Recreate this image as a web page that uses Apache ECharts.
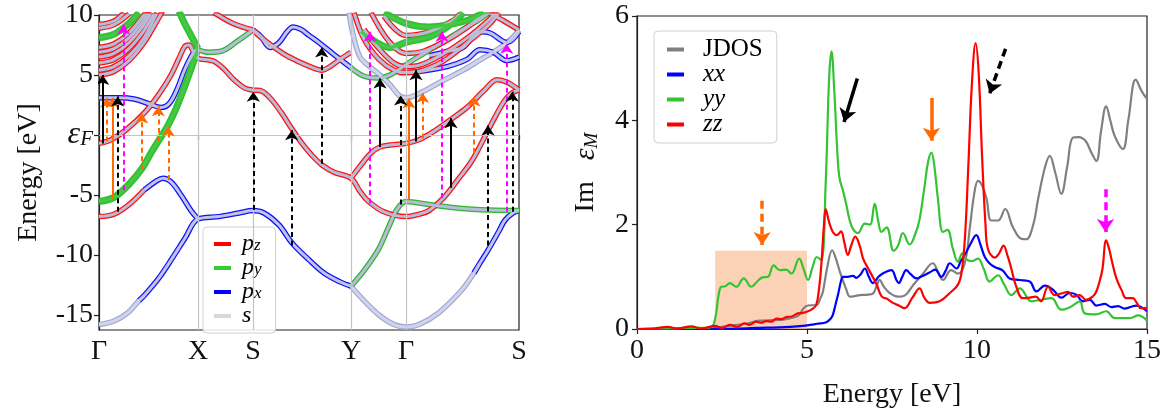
<!DOCTYPE html>
<html><head><meta charset="utf-8">
<script src="https://cdn.jsdelivr.net/npm/echarts@6/dist/echarts.min.js"></script>
<style>html,body{margin:0;padding:0;background:#fff}#c{width:1168px;height:414px}</style>
</head><body><div id="c"></div><script>
// ---------- DATA ----------
const kPoints = [0, 99, 154, 252, 307, 420];
const kLabels = ['Γ', 'X', 'S', 'Y', 'Γ', 'S'];
const eTicks = [-15, -10, -5, 0, 5, 10];
const eTickLabels = ['-15', '-10', '-5', 'εF', '5', '10'];

const bandsPz = [
  [[0,-6.8],[15,-6.6],[30,-5.8],[45,-4.6]],
  [[0,-0.7],[12,-0.4],[28,0.5],[46,1.9],[60,3.4],[72,5.0],[80,6.4],[86,7.4],[90,7.5],[94,7.0],[99,6.4],[110,6.25],[116,6.1],[125,5.5],[135,4.6],[146,3.9],[154,3.75],[163,3.65],[172,3.0],[182,1.9],[193,0.5],[203,-0.7],[213,-1.7],[223,-2.5],[235,-3.1],[252,-3.6],[261,-4.7],[269,-5.5],[285,-6.4],[307,-6.8],[320,-6.6],[330,-6.3],[345,-5.2],[360,-3.6],[374,-2.0],[391,0.7],[405,2.8],[413,3.5],[420,3.75]],
  [[252,-3.6],[262,-2.5],[272,-1.5],[281,-1.0],[295,-0.8],[307,-0.7],[320,-0.4],[331,0.1],[342,0.7],[352,1.3],[368,2.3],[385,3.7],[398,4.6],[408,4.4],[420,3.75]],
  [[0,5.0],[15,5.3],[30,6.2],[45,7.7],[60,9.8],[64,10.4]],
  [[0,5.4],[15,5.7],[30,6.6],[45,8.1],[58,10.2]],
  [[0,6.0],[15,6.3],[30,7.2],[45,8.7],[55,10.1]],
  [[0,6.5],[15,6.8],[30,7.7],[45,9.2],[52,10.2]],
  [[0,6.9],[15,7.2],[30,8.1],[45,9.6],[50,10.3]],
  [[0,7.3],[15,7.6],[30,8.5],[45,10.0],[48,10.4]],
  [[0,8.9],[15,9.2],[30,10.1]],
  [[0,9.2],[15,9.5],[25,10.2]],
  [[115,10.2],[134,9.3],[154,8.75]],
  [[154,8.75],[161,8.2],[184,6.8],[200,6.1],[211,5.7],[223,5.4],[231,5.7],[241,6.3],[252,6.9]],
  [[255,10.2],[265,8.0],[280,6.3],[295,5.4],[307,5.2],[320,5.3],[345,6.2],[370,7.8],[390,9.2],[400,10.2]],
  [[265,8.8],[280,7.2],[295,6.0],[307,5.7],[320,5.8],[345,6.8],[370,8.2],[390,9.6],[397,10.2]],
  [[272,10.2],[290,7.8],[307,6.8],[325,7.0],[350,8.0],[375,9.4],[385,10.2]],
  [[285,9.9],[307,8.3],[330,8.6],[355,9.6],[362,10.2]],
  [[390,10.2],[405,9.5],[420,8.75]]
];
const bandsPx = [
  [[40,-13.8],[45,-13.4],[60,-11.9],[73,-10.3],[86,-8.6],[99,-7.0],[120,-6.8],[140,-6.5],[154,-6.3],[165,-6.5],[180,-7.5],[193,-9.0],[210,-10.4],[225,-11.5],[240,-12.2],[252,-12.6]],
  [[45,-4.6],[58,-3.8],[64,-3.6],[72,-3.9],[82,-5.0],[92,-6.3],[99,-7.0]],
  [[0,3.1],[20,3.1],[35,3.0],[50,2.6],[62,2.3],[70,2.6],[78,3.8],[86,5.5],[94,6.8],[99,7.2]],
  [[154,8.75],[162,8.2],[171,7.3],[180,7.7],[188,8.6],[194,9.0],[202,8.8],[210,8.3],[220,7.7],[235,6.7],[252,5.6]],
  [[375,-11.5],[380,-10.8],[389,-9.6],[400,-8.0],[406,-7.1],[414,-6.5],[420,-6.3]],
  [[300,5.2],[320,5.3],[348,5.7],[368,6.3],[381,7.1],[394,6.9],[408,6.2],[420,6.5]],
  [[330,6.6],[350,7.0],[364,7.3],[381,8.6],[391,8.5],[408,7.7],[420,8.6]]
];
const bandsPy = [
  [[252,-12.6],[265,-11.3],[279,-9.6],[290,-7.6],[298,-6.2],[307,-5.55],[330,-5.8],[360,-6.1],[390,-6.25],[420,-6.3]],
  [[252,5.6],[265,4.9],[278,4.75],[291,5.0],[314,6.25],[341,7.6],[360,8.6],[380,9.6],[390,10.2]],
  [[99,7.1],[110,6.9],[123,7.0],[138,7.8],[154,8.75]]
];
const bandsPyThick = [
  [[0,-5.55],[15,-5.2],[30,-4.1],[43,-2.8],[52,-1.5],[59,-0.55],[69,0.8],[77,2.2],[85,3.9],[92,5.5],[99,7.2]],
  [[80,10.3],[85,9.4],[92,8.3],[99,7.2]],
  [[0,8.1],[15,8.4],[30,9.3],[40,10.2]],
  [[262,8.6],[280,7.6],[291,7.3],[308,7.75],[331,8.2],[348,9.0],[361,9.9],[364,10.2]],
  [[285,10.2],[307,9.3],[330,9.0],[350,9.2],[370,9.6],[385,10.2]]
];
const bandsS = [
  [[0,-15.8],[15,-15.5],[29,-14.8],[40,-13.8],[45,-13.4]],
  [[252,-12.6],[265,-13.8],[280,-15.0],[295,-15.8],[307,-16.0],[320,-15.8],[340,-14.8],[363,-12.9],[375,-11.5],[380,-10.8]],
  [[250,10.2],[254,8.4],[261,6.5],[272,5.6],[281,5.0],[291,4.2],[300,3.3],[307,3.1],[321,3.5],[341,4.4],[364,5.4],[381,6.25],[400,7.2],[412,8.0],[420,8.75]]
];

// transitions [k, E_from, E_to]
const trBlackSolid = [[3.7,-0.7,5.0],[281,-1.0,4.7],[317,-0.55,5.4],[352,-4.4,1.4]];
const trBlackDashed = [[18.7,-6.4,3.2],[154.3,-6.25,3.6],[192.7,-9.2,0.4],[222.7,-2.4,7.3],[301.7,-5.8,3.3],[389,-9.2,0.8],[413.3,-6.4,3.6]];
const trOrangeSolid = [[13.5,-5.4,3.1],[310,-5.4,3.05]];
const trOrangeDashed = [[7.7,-0.55,3.1],[42.7,-2.9,1.8],[59.3,-0.55,2.4],[69.3,-3.75,0.7],[323.7,-0.3,3.5],[375,-1.5,3.2]];
const trMagentaDashed = [[24.5,-4.6,9.2],[271,-5.7,8.6],[343,-5.25,8.6],[407.7,-6.4,7.6]];

// spectra [E, Im eps]
const jdos = [[0,0],[2.2,0.01],[2.5,0.04],[2.8,0.07],[3.2,0.1],[3.6,0.16],[4.0,0.17],[4.3,0.18],[4.6,0.22],[4.77,0.27],[4.9,0.40],[5.03,0.45],[5.27,0.46],[5.4,0.6],[5.47,0.72],[5.6,1.2],[5.74,1.51],[5.85,1.35],[5.97,1.09],[6.16,0.75],[6.26,0.62],[6.4,0.63],[6.55,0.65],[6.8,0.66],[6.94,0.68],[7.04,0.81],[7.14,0.94],[7.25,0.82],[7.43,0.69],[7.68,0.62],[7.87,0.64],[8.12,0.84],[8.41,1.06],[8.7,1.26],[8.85,1.1],[9.0,0.94],[9.24,1.13],[9.44,1.06],[9.64,1.26],[9.8,2.0],[9.92,2.6],[10.03,2.84],[10.15,2.75],[10.28,2.5],[10.42,2.08],[10.62,2.08],[10.83,2.30],[11.05,1.96],[11.3,1.73],[11.45,1.72],[11.65,1.99],[11.8,2.5],[12.0,3.1],[12.14,3.32],[12.3,3.0],[12.48,2.59],[12.65,3.1],[12.82,3.67],[13.0,3.68],[13.2,3.6],[13.35,3.4],[13.51,3.22],[13.65,3.8],[13.8,4.27],[13.92,4.0],[14.05,3.7],[14.29,3.45],[14.45,4.0],[14.67,4.78],[14.85,4.55],[15,4.41]];
const epsXX = [[0,0],[2.5,0.005],[3.5,0.02],[4.5,0.04],[5.0,0.07],[5.3,0.1],[5.57,0.13],[5.7,0.2],[5.76,0.27],[5.85,0.5],[5.91,0.65],[6.0,0.92],[6.06,1.0],[6.2,1.0],[6.35,1.02],[6.45,0.98],[6.58,1.05],[6.70,1.16],[6.82,1.0],[6.94,0.88],[7.1,1.0],[7.24,1.07],[7.48,1.13],[7.63,0.94],[7.7,0.88],[7.8,1.0],[7.92,1.13],[8.05,1.05],[8.22,0.97],[8.35,1.0],[8.51,1.05],[8.65,1.1],[8.77,1.14],[8.95,1.0],[9.08,1.12],[9.2,1.26],[9.4,1.16],[9.52,1.3],[9.64,1.42],[9.8,1.62],[9.98,1.80],[10.1,1.62],[10.23,1.38],[10.38,1.25],[10.52,1.19],[10.76,1.12],[10.96,0.97],[11.26,0.94],[11.55,0.91],[11.75,0.72],[12.0,0.83],[12.24,0.75],[12.48,0.60],[12.73,0.69],[12.92,0.66],[13.12,0.53],[13.32,0.56],[13.51,0.45],[13.76,0.48],[13.95,0.42],[14.15,0.44],[14.34,0.39],[14.68,0.45],[15,0.34]];
const epsYY = [[0,0],[0.5,0.01],[1.0,0.01],[1.5,0.02],[2.0,0.02],[2.2,0.04],[2.3,0.2],[2.4,0.65],[2.48,0.81],[2.6,0.82],[2.73,0.88],[2.92,0.81],[3.14,0.97],[3.36,0.81],[3.55,0.92],[3.69,0.99],[3.85,1.0],[4.02,1.22],[4.2,1.13],[4.39,1.14],[4.54,1.06],[4.77,1.35],[4.9,1.15],[5.03,0.94],[5.17,1.2],[5.29,1.38],[5.42,1.32],[5.55,2.8],[5.65,4.8],[5.72,5.32],[5.8,4.6],[5.9,3.3],[5.96,2.88],[6.06,2.65],[6.16,2.37],[6.25,2.1],[6.35,1.92],[6.5,1.84],[6.7,2.02],[6.85,2.0],[6.99,2.4],[7.1,2.05],[7.19,1.86],[7.34,1.95],[7.55,1.5],[7.68,1.6],[7.82,1.84],[8.02,1.62],[8.2,1.85],[8.31,2.1],[8.45,2.7],[8.56,3.2],[8.66,3.38],[8.75,3.1],[8.85,2.5],[9.0,1.86],[9.13,1.9],[9.29,1.54],[9.44,1.29],[9.57,1.45],[9.7,1.33],[9.85,1.3],[10.03,1.35],[10.2,1.15],[10.37,0.91],[10.62,1.03],[10.8,0.85],[11.01,0.65],[11.26,0.78],[11.6,0.53],[11.95,0.57],[12.19,0.59],[12.48,0.37],[12.77,0.43],[13.02,0.53],[13.17,0.30],[13.5,0.28],[13.8,0.34],[14.05,0.21],[14.5,0.21],[14.74,0.26],[15,0.16]];
const epsZZ = [[0,0],[0.5,0.01],[0.9,0.04],[1.2,0.01],[1.6,0.05],[1.9,0.01],[2.3,0.06],[2.5,0.02],[2.73,0.08],[2.95,0.04],[3.16,0.11],[3.3,0.08],[3.5,0.14],[3.65,0.12],[3.8,0.15],[3.95,0.14],[4.1,0.2],[4.25,0.19],[4.39,0.23],[4.55,0.24],[4.73,0.30],[4.88,0.31],[5.03,0.34],[5.15,0.38],[5.27,0.46],[5.35,0.75],[5.42,1.22],[5.5,2.0],[5.55,2.30],[5.65,2.05],[5.76,1.86],[5.88,1.8],[6.0,1.87],[6.1,1.65],[6.2,1.42],[6.3,1.6],[6.42,1.77],[6.55,1.6],[6.65,1.35],[6.85,1.1],[7.05,0.85],[7.2,0.62],[7.35,0.58],[7.53,0.50],[7.7,0.45],[7.87,0.40],[8.1,0.6],[8.31,0.78],[8.45,0.6],[8.61,0.50],[8.9,0.53],[9.2,0.69],[9.44,0.85],[9.55,1.1],[9.65,1.8],[9.75,3.2],[9.85,4.7],[9.96,5.48],[10.05,4.9],[10.15,3.3],[10.25,2.0],[10.32,1.54],[10.52,1.37],[10.65,1.45],[10.78,1.6],[10.9,1.4],[11.0,1.18],[11.15,0.82],[11.35,0.59],[11.55,0.6],[11.73,0.62],[11.88,0.53],[12.09,0.81],[12.28,0.65],[12.48,0.68],[12.68,0.71],[12.82,0.62],[13.02,0.65],[13.2,0.56],[13.4,0.62],[13.51,0.72],[13.62,0.95],[13.69,1.15],[13.8,1.70],[13.9,1.5],[13.95,1.35],[14.1,0.97],[14.25,0.75],[14.39,0.59],[14.58,0.59],[14.7,0.5],[14.82,0.40],[15,0.40]];
const shadedRange = [[2.3, 0], [5.0, 1.5]];
// marker arrows [E1, v1, E2, v2]
const mkBlackSolid = [[6.48,4.80,6.09,3.97]];
const mkBlackDashed = [[10.84,5.37,10.37,4.51]];
const mkOrangeSolid = [[8.66,4.43,8.66,3.61]];
const mkOrangeDashed = [[3.68,2.46,3.68,1.61]];
const mkMagentaDashed = [[13.78,2.68,13.78,1.86]];

// ---------- STYLE / BUILD ----------
const FONT = "'Liberation Serif','DejaVu Serif',serif";
const C = {red:'#ff0000', green:'#33c433', blue:'#0000ff', gray:'#808080', orange:'#ff6a00', magenta:'#ff00ff', black:'#000000'};
const orb = {
  pz: {outer:'#ff1010', ow:5.5, inner:'#b7bcda', iw:3},
  px: {outer:'#1010ff', ow:5.5, inner:'#c0c5e3', iw:3},
  py: {outer:'#2fb52f', ow:5.5, inner:'#b7bcda', iw:3},
  pyT:{outer:'#34c234', ow:7, inner:'#45c845', iw:3},
  s:  {outer:'#a0a8d6', ow:5.5, inner:'#d2d5ea', iw:3}
};
const series = [];
function addBands(list, key){
  const st = orb[key];
  list.forEach(pts => {
    series.push({type:'line', xAxisIndex:0, yAxisIndex:0, data:pts, showSymbol:false, smooth:0.35, silent:true, z:2,
      lineStyle:{color:st.outer, width:st.ow}, animation:false});
    series.push({type:'line', xAxisIndex:0, yAxisIndex:0, data:pts, showSymbol:false, smooth:0.35, silent:true, z:3,
      lineStyle:{color:st.inner, width:st.iw}, animation:false});
  });
}
addBands(bandsS, 's');
addBands(bandsPx, 'px');
addBands(bandsPy, 'py');
addBands(bandsPz, 'pz');
addBands(bandsPyThick, 'pyT');

// grid lines in band panel
series.push({type:'line', xAxisIndex:0, yAxisIndex:0, data:[[0,0]], showSymbol:false, lineStyle:{opacity:0}, silent:true, z:1,
  markLine:{silent:true, symbol:['none','none'], label:{show:false}, animation:false,
    lineStyle:{color:'#c4c4c4', width:1.2, type:'solid'},
    data: kPoints.slice(1, -1).map(k => ({xAxis:k})).concat([{yAxis:0}])}});

function addTransitions(list, color, dashed, grid){
  series.push({type:'lines', coordinateSystem:'cartesian2d', xAxisIndex:grid, yAxisIndex:grid, polyline:false, silent:true, z:6,
    symbol:['none','arrow'], symbolSize: grid===0 ? 10 : 13, animation:false,
    lineStyle:{color:color, width: grid===0 ? 2 : 3.5, type: dashed ? (grid===0 ? [5,3.5] : [8,5]) : 'solid', opacity:1},
    data: list.map(t => grid===0 ? {coords:[[t[0],t[1]],[t[0],t[2]]]} : {coords:[[t[0],t[1]],[t[2],t[3]]]})});
}
addTransitions(trOrangeSolid, C.orange, false, 0);
addTransitions(trOrangeDashed, C.orange, true, 0);
addTransitions(trMagentaDashed, C.magenta, true, 0);
addTransitions(trBlackSolid, C.black, false, 0);
addTransitions(trBlackDashed, C.black, true, 0);
addTransitions(mkBlackSolid, C.black, false, 1);
addTransitions(mkBlackDashed, C.black, true, 1);
addTransitions(mkOrangeSolid, C.orange, false, 1);
addTransitions(mkOrangeDashed, C.orange, true, 1);
addTransitions(mkMagentaDashed, C.magenta, true, 1);

// legend dummies for band panel
[['pz', C.red], ['py', '#33cc33'], ['px', C.blue], ['s', '#d8d8d8']].forEach(([n, c]) => {
  series.push({name:n, type:'line', xAxisIndex:0, yAxisIndex:0, data:[], color:c});
});

// spectra
const spec = [['JDOS', jdos, C.gray], ['xx', epsXX, C.blue], ['yy', epsYY, C.green], ['zz', epsZZ, C.red]];
spec.forEach(([n, d, c], i) => {
  const s = {name:n, type:'line', xAxisIndex:1, yAxisIndex:1, data:d, showSymbol:false, smooth:0.4, color:c,
    lineStyle:{color:c, width:2.2}, z:4, animation:false};
  if (i === 0) {
    s.markArea = {silent:true, itemStyle:{color:'rgba(250,188,148,0.68)'},
      data:[[{coord:shadedRange[0]}, {coord:shadedRange[1]}]]};
  }
  series.push(s);
});

const richL = {
  it:{fontFamily:FONT, fontStyle:'italic', fontSize:24, lineHeight:21, padding:[0,0,0,6], color:'#000'},
  sub:{fontFamily:FONT, fontStyle:'italic', fontSize:17, lineHeight:9, verticalAlign:'bottom', color:'#000'}
};
const richR = {
  rm:{fontFamily:FONT, fontSize:25, lineHeight:25, padding:[0,0,0,14], color:'#000'},
  itl:{fontFamily:FONT, fontStyle:'italic', fontSize:25, lineHeight:25, padding:[0,0,0,14], color:'#000'}
};
const axisCommon = {
  axisLine:{show:true, lineStyle:{color:'#222', width:1.2}},
  axisTick:{show:true, length:5, lineStyle:{color:'#222', width:1.2}},
  splitLine:{show:false}
};
const labelStyle = {fontFamily:FONT, fontSize:28, color:'#111'};

const option = {
  backgroundColor:'#fff',
  animation:false,
  grid:[
    {left:99, top:15, width:420, height:315, show:true, borderColor:'#222', borderWidth:1.2},
    {left:637, top:16, width:510, height:315, show:true, borderColor:'#222', borderWidth:1.2}
  ],
  xAxis:[
    Object.assign({}, axisCommon, {type:'value', gridIndex:0, min:0, max:420,
      axisTick:{show:true, length:5, customValues:kPoints, lineStyle:{color:'#222', width:1.2}},
      axisLabel:Object.assign({}, labelStyle, {customValues:kPoints, margin:8,
        formatter:v => kLabels[kPoints.indexOf(v)]})}),
    Object.assign({}, axisCommon, {type:'value', gridIndex:1, min:0, max:15, interval:5,
      axisLabel:Object.assign({}, labelStyle, {margin:8}),
      name:'Energy [eV]', nameLocation:'middle', nameGap:52, nameTextStyle:{fontFamily:FONT, fontSize:28, color:'#111'}})
  ],
  yAxis:[
    Object.assign({}, axisCommon, {type:'value', gridIndex:0, min:-16.25, max:10,
      axisTick:{show:true, length:5, customValues:eTicks, lineStyle:{color:'#222', width:1.2}},
      axisLabel:Object.assign({}, labelStyle, {customValues:eTicks, margin:6,
        formatter:v => { const l = eTickLabels[eTicks.indexOf(v)]; return l === 'εF' ? '{e|ε}{f|F}' : l; },
        rich:{e:{fontFamily:FONT, fontStyle:'italic', fontSize:32, lineHeight:30, color:'#111'},
              f:{fontFamily:FONT, fontStyle:'italic', fontSize:21, lineHeight:12, verticalAlign:'bottom', color:'#111'}}}),
      name:'Energy [eV]', nameLocation:'middle', nameGap:56, nameRotate:90,
      nameTextStyle:{fontFamily:FONT, fontSize:28, color:'#111'}}),
    Object.assign({}, axisCommon, {type:'value', gridIndex:1, min:0, max:6, interval:2,
      axisLabel:Object.assign({}, labelStyle, {margin:8}),
      name:'{rm|Im}   {e|ε}{m|M}', nameLocation:'middle', nameGap:36, nameRotate:90,
      nameTextStyle:{fontFamily:FONT, fontSize:28, color:'#111',
        rich:{rm:{fontFamily:FONT, fontSize:28, lineHeight:30, color:'#111'},
              e:{fontFamily:FONT, fontStyle:'italic', fontSize:30, lineHeight:30, color:'#111'},
              m:{fontFamily:FONT, fontStyle:'italic', fontSize:19, lineHeight:14, verticalAlign:'bottom', color:'#111'}}}})
  ],
  legend:[
    {data:['pz','py','px','s'], left:203, top:227, orient:'vertical', icon:'rect', itemWidth:17, itemHeight:4, itemGap:0,
     backgroundColor:'rgba(255,255,255,0.85)', borderColor:'#d0d0d0', borderWidth:1, borderRadius:4, padding:[5,14,5,11],
     formatter:n => n === 's' ? '{it|s}' : '{it|p}{sub|' + n.charAt(1) + '}',
     textStyle:{fontFamily:FONT, fontSize:17, lineHeight:21, rich:richL}, selectedMode:false},
    {data:['JDOS','xx','yy','zz'], left:654, top:31, orient:'vertical', icon:'rect', itemWidth:17, itemHeight:4, itemGap:0,
     backgroundColor:'rgba(255,255,255,0.85)', borderColor:'#d0d0d0', borderWidth:1, borderRadius:4, padding:[6,14,6,13],
     formatter:n => n === 'JDOS' ? '{rm|JDOS}' : '{itl|' + n + '}',
     textStyle:{fontFamily:FONT, fontSize:25, rich:richR}, selectedMode:false}
  ],
  series:series
};
const chart = echarts.init(document.getElementById('c'), null, {renderer:'canvas'});
chart.setOption(option);
</script></body></html>
